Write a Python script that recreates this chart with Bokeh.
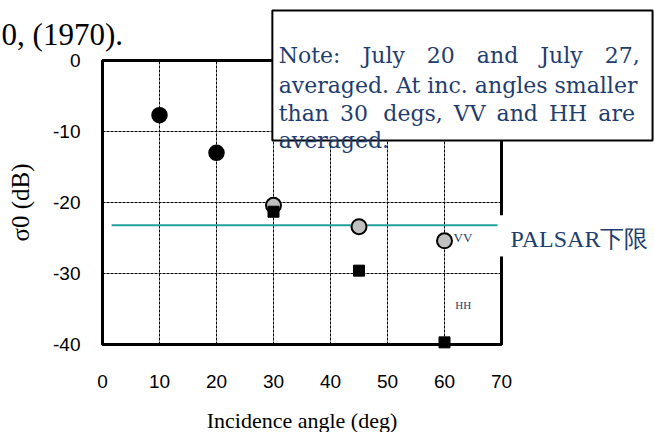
from bokeh.plotting import figure
from bokeh.models import Range1d, FixedTicker, Label, BoxAnnotation
from bokeh.embed import file_html
from bokeh.resources import INLINE

# ---- data ----
avg_angle = [10, 20]           # VV and HH averaged (< 30 deg)
avg_sigma = [-7.7, -13.0]
vv_angle = [30, 45, 60]
vv_sigma = [-20.4, -23.4, -25.4]
hh_angle = [30, 45, 60]
hh_sigma = [-21.3, -29.6, -39.7]
palsar_x = [1.6, 69.4]
palsar_y = [-23.2, -23.2]
x_ticks = [0, 10, 20, 30, 40, 50, 60, 70]
y_ticks = [0, -10, -20, -30, -40]
note_lines = [
    "Note:\u2003July\u200320\u2003and\u2003July\u200327,",
    "averaged. At inc. angles smaller",
    "than\u200230\u2002\u2009degs,\u2002VV\u2002and\u2002HH\u2002are",
    "averaged.",
]

BLUE = "#1F3D6E"
TEAL = "#1FA09C"

XMIN, XMAX = min(x_ticks), max(x_ticks)
YMIN, YMAX = min(y_ticks), max(y_ticks)

# whole canvas is the frame; axes are pinned to the inner plot box
p = figure(width=654, height=432, output_backend="svg", toolbar_location=None,
           x_range=Range1d(-17.895, 96.842), y_range=Range1d(-52.394, 8.451),
           min_border_left=0, min_border_right=0, min_border_top=0, min_border_bottom=0)
p.title.visible = False
p.background_fill_color = "white"
p.border_fill_color = "white"
p.outline_line_color = None
p.xgrid.visible = False
p.ygrid.visible = False

for ax in (p.xaxis, p.yaxis):
    ax.axis_line_color = None
    ax.major_tick_line_color = None
    ax.minor_tick_line_color = None
    ax.major_label_text_font = "Liberation Sans"
    ax.major_label_text_font_size = "19px"
    ax.major_label_text_color = "black"
    ax.axis_label_text_font = "Liberation Serif"
    ax.axis_label_text_font_style = "normal"
    ax.axis_label_text_color = "black"

p.xaxis.ticker = FixedTicker(ticks=x_ticks)
p.yaxis.ticker = FixedTicker(ticks=y_ticks)
p.yaxis.major_label_overrides = {t: str(t) for t in y_ticks}
p.xaxis.fixed_location = YMIN
p.yaxis.fixed_location = XMIN
p.xaxis.bounds = (XMIN, XMAX)
p.yaxis.bounds = (YMIN, YMAX)
p.xaxis.major_label_standoff = 24
p.yaxis.major_label_standoff = 16
p.xaxis.axis_label = "Incidence angle (deg)"
p.xaxis.axis_label_text_font_size = "22px"
p.xaxis.axis_label_standoff = 17
p.yaxis.axis_label = "σ0 (dB)"
p.yaxis.axis_label_text_font_size = "25px"
p.yaxis.axis_label_standoff = 16

# dashed grid inside the plot box
gx = x_ticks[1:-1]
gy = y_ticks[1:-1]
p.segment(x0=gx, y0=[YMIN] * len(gx), x1=gx, y1=[YMAX] * len(gx),
          line_color="black", line_width=1, line_dash="3 1")
p.segment(x0=[XMIN] * len(gy), y0=gy, x1=[XMAX] * len(gy), y1=gy,
          line_color="black", line_width=1, line_dash="3 1")

# plot box
p.quad(left=[XMIN], right=[XMAX], bottom=[YMIN], top=[YMAX], fill_color=None,
       line_color="black", line_width=3)

p.line(palsar_x, palsar_y, line_color=TEAL, line_width=2)

p.scatter(avg_angle, avg_sigma, marker="circle", size=15, fill_color="black",
          line_color="black", line_width=1.5)
p.scatter(vv_angle, vv_sigma, marker="circle", size=15, fill_color="#C0C0C0",
          line_color="black", line_width=2)
p.scatter(hh_angle, hh_sigma, marker="square", size=11, fill_color="black",
          line_color="black", line_width=1)

p.add_layout(Label(x=61.6, y=-24.9, text="VV", text_font="Liberation Serif",
                   text_font_size="13px", text_color=BLUE, text_baseline="middle"))
p.add_layout(Label(x=61.9, y=-34.4, text="HH", text_font="Liberation Serif",
                   text_font_size="11px", text_color=BLUE, text_baseline="middle"))

# white gap in right frame + PALSAR label
p.add_layout(BoxAnnotation(left=69.3, right=70.8, top=-21.8, bottom=-27.6,
                           fill_color="white", fill_alpha=1, line_color=None))
p.add_layout(Label(x=71.6, y=-25.1, text="PALSAR下限", text_font="Liberation Serif",
                   text_font_size="24px", text_color=BLUE, text_baseline="middle"))

# note box
p.add_layout(BoxAnnotation(left=29.8, right=96.5, top=7.04, bottom=-11.27,
                           fill_color="white", fill_alpha=1, line_color="black",
                           line_alpha=1, line_width=2))
note_y = [0.70, -3.52, -7.42, -11.27]
for t, yy in zip(note_lines, note_y):
    p.add_layout(Label(x=30.9, y=yy, text=t, text_font="DejaVu Serif",
                       text_font_size="22px", text_color=BLUE, text_baseline="alphabetic"))

p.add_layout(Label(x=-17.7, y=3.66, text="0, (1970).",
                   text_font="Liberation Serif", text_font_size="31px", text_color="black",
                   text_baseline="alphabetic"))

open("out.html", "w").write(file_html(p, INLINE))
